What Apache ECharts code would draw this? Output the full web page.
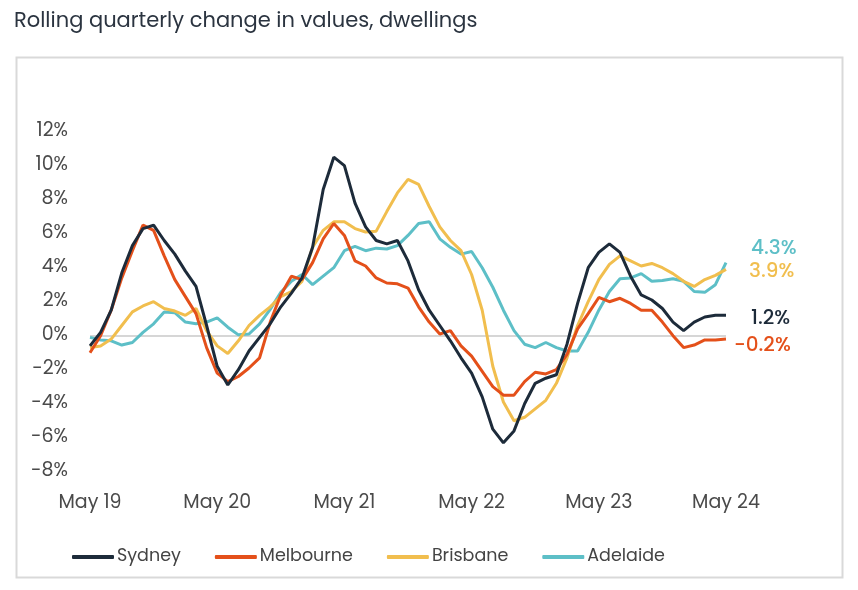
<!DOCTYPE html>
<html>
<head>
<meta charset="utf-8">
<script src="https://cdn.jsdelivr.net/npm/echarts@6/dist/echarts.min.js"></script>
<style>html,body{margin:0;padding:0;background:#fff}#c{width:858px;height:590px}</style>
</head>
<body>
<div id="c"></div>
<script>
const years = ['19','20','21','22','23','24'];
const monthLabels = [];
for (let y = 0; y < years.length; y++) {
  const n = y === years.length - 1 ? 1 : 12;
  const names = ['May','Jun','Jul','Aug','Sep','Oct','Nov','Dec','Jan','Feb','Mar','Apr'];
  for (let m = 0; m < n; m++) monthLabels.push(names[m] + ' ' + years[y]);
}
const sydney = [-0.6,0.2,1.5,3.7,5.3,6.3,6.5,5.6,4.8,3.8, 2.9,0.6,-1.8,-2.9,-2.0,-0.9,-0.1,0.7,1.7,2.5, 3.4,5.2,8.6,10.5,10.0,7.8,6.4,5.6,5.4,5.6, 4.4,2.7,1.5,0.6,-0.3,-1.3,-2.2,-3.6,-5.5,-6.3, -5.6,-4.0,-2.8,-2.5,-2.3,-0.5,1.9,4.0,4.9,5.4, 4.9,3.5,2.4,2.1,1.6,0.8,0.3,0.8,1.1,1.2,1.2];
const melbourne = [-1.0,0.0,1.5,3.4,5.0,6.5,6.2,4.7,3.3,2.3, 1.3,-0.7,-2.2,-2.7,-2.4,-1.9,-1.3,0.8,2.4,3.5, 3.3,4.3,5.7,6.6,5.9,4.4,4.1,3.4,3.1,3.05, 2.8,1.7,0.8,0.1,0.3,-0.6,-1.2,-2.1,-3.0,-3.5, -3.5,-2.7,-2.15,-2.25,-2.0,-1.1,0.4,1.3,2.25,2.0, 2.2,1.9,1.5,1.5,0.8,0.0,-0.7,-0.55,-0.25,-0.25,-0.2];
const brisbane = [-0.7,-0.6,-0.2,0.6,1.4,1.75,2.0,1.6,1.45,1.2, 1.6,0.3,-0.6,-1.05,-0.3,0.6,1.2,1.7,2.3,2.6, 3.2,5.2,6.2,6.7,6.7,6.3,6.1,6.15,7.3,8.4, 9.2,8.9,7.6,6.4,5.6,5.0,3.6,1.5,-1.8,-3.9, -5.0,-4.8,-4.3,-3.8,-2.8,-1.3,0.6,2.0,3.3,4.2, 4.7,4.4,4.1,4.25,4.0,3.65,3.2,2.9,3.3,3.55,3.9];
const adelaide = [-0.1,-0.25,-0.3,-0.55,-0.4,0.2,0.7,1.4,1.35,0.8, 0.7,0.8,1.05,0.5,0.05,0.1,0.7,1.55,2.55,3.2, 3.6,3.0,3.5,4.0,5.0,5.25,5.0,5.15,5.1,5.3, 5.9,6.6,6.7,5.7,5.2,4.8,4.95,4.0,2.85,1.5, 0.3,-0.5,-0.7,-0.4,-0.7,-0.9,-0.9,0.2,1.5,2.6, 3.35,3.4,3.65,3.2,3.25,3.35,3.2,2.6,2.55,3.0,4.3];
const seriesNames = ['Sydney','Melbourne','Brisbane','Adelaide'];
const colors = ['#1d2b3a','#e4501a','#f1be4e','#5dbfc7'];
const endOffsets = [[25,4],[8,7],[23,3],[25,-14]];

const FONT = 'Poppins, "Open Sans", sans-serif';
const chart = echarts.init(document.getElementById('c'), null, {renderer:'canvas'});
const datas = [sydney, melbourne, brisbane, adelaide];
const series = datas.map((d, k) => ({
  name: seriesNames[k],
  type: 'line',
  data: d,
  symbol: 'none',
  z: k === 0 ? 6 : 5 - k,
  lineStyle: {width: 3, color: colors[k]},
  itemStyle: {color: colors[k]},
  endLabel: {
    show: true,
    distance: 0,
    offset: endOffsets[k],
    formatter: p => p.value.toFixed(1) + '%',
    color: colors[k],
    fontSize: 20,
    fontWeight: 500,
    fontFamily: FONT
  },
  markLine: k === 0 ? {
    silent: true, symbol: 'none', label: {show: false},
    lineStyle: {color: '#d6d6d6', width: 2, type: 'solid'},
    z: 1,
    data: [{yAxis: 0}]
  } : undefined
}));

chart.setOption({
  animation: false,
  title: {
    text: 'Rolling quarterly change in values, dwellings',
    left: 9, top: 6,
    textStyle: {fontFamily: FONT, fontSize: 21, fontWeight: 400, color: '#2b3440'}
  },
  graphic: [{
    type: 'rect', shape: {x: 16.5, y: 57.5, width: 826, height: 520},
    style: {fill: 'none', stroke: '#d9d9d9', lineWidth: 2}, z: -1, silent: true
  }],
  legend: {
    left: 67, top: 543,
    icon: 'roundRect', itemWidth: 42, itemHeight: 4, itemGap: 34,
    data: seriesNames,
    textStyle: {fontFamily: FONT, fontSize: 17.5, color: '#444', padding: [0,0,0,-2]}
  },
  grid: {left: 90, right: 132, top: 131.7, bottom: 118.3},
  xAxis: {
    type: 'category', data: monthLabels, boundaryGap: false,
    axisLine: {show: false}, axisTick: {show: false},
    axisLabel: {interval: 11, margin: 22, fontFamily: FONT, fontSize: 19, color: '#4a4a4a',
      formatter: v => v}
  },
  yAxis: {
    type: 'value', min: -8, max: 12, interval: 2,
    splitLine: {show: false}, axisLine: {show: false}, axisTick: {show: false},
    axisLabel: {margin: 22, fontFamily: FONT, fontSize: 19, color: '#4a4a4a', formatter: v => v + '%'}
  },
  series: series
});
</script>
</body>
</html>
